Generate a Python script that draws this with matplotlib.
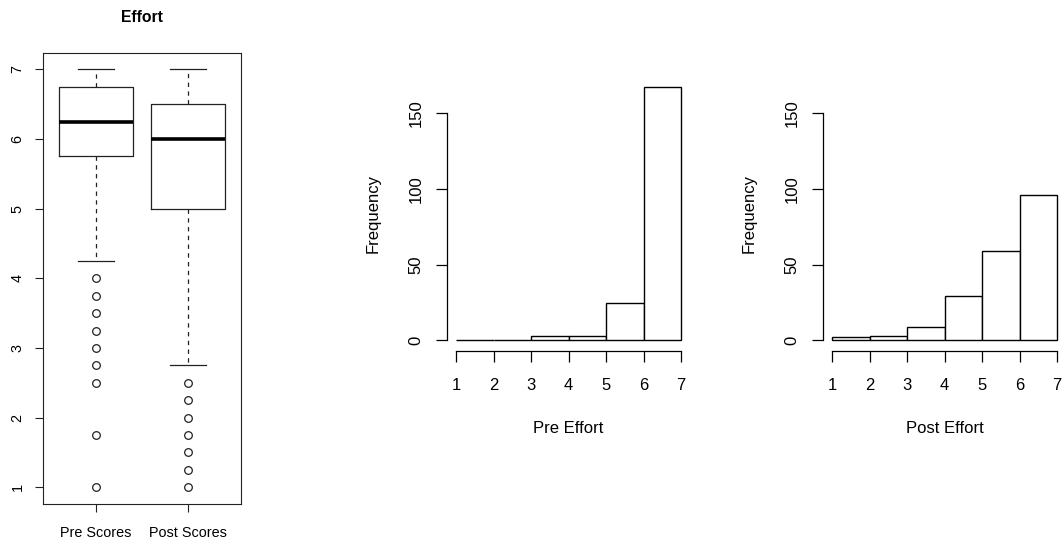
import numpy as np
import matplotlib
matplotlib.use("Agg")
import matplotlib.pyplot as plt

plt.rcParams['font.family'] = ['Liberation Sans', 'DejaVu Sans']

# boxplot summary
box_labels = ['Pre Scores', 'Post Scores']
box_q1 = [5.75, 5.0]
box_med = [6.25, 6.0]
box_q3 = [6.75, 6.5]
box_lo = [4.25, 2.75]
box_hi = [7.0, 7.0]
pre_outliers = [4.0, 3.75, 3.5, 3.25, 3.0, 2.75, 2.5, 1.75, 1.0]
post_outliers = [2.5, 2.25, 2.0, 1.75, 1.5, 1.25, 1.0]

# histogram counts, bins of width 1 from 1 to 7
bin_edges = [1, 2, 3, 4, 5, 6, 7]
pre_counts = [0, 0, 3, 3, 25, 167]
post_counts = [2, 3, 9, 29, 59, 96]

W, H = 1062, 544
fig = plt.figure(figsize=(W / 100, H / 100), dpi=100)


def px_axes(left, right, top, bottom):
    return fig.add_axes([left / W, 1 - bottom / H, (right - left) / W, (bottom - top) / H])


# ---- boxplot ----
ax = px_axes(42.7, 241.3, 52.7, 504)
stats = []
fliers = [pre_outliers, post_outliers]
for i in range(2):
    stats.append(dict(med=box_med[i], q1=box_q1[i], q3=box_q3[i],
                      whislo=box_lo[i], whishi=box_hi[i], fliers=fliers[i]))
lc = '#222222'
ax.bxp(stats, positions=[1, 2], widths=0.8, capwidths=0.4,
       boxprops=dict(color=lc, linewidth=0.9),
       whiskerprops=dict(color=lc, linewidth=0.9, linestyle=(0, (3.5, 3.5))),
       capprops=dict(color=lc, linewidth=0.9),
       medianprops=dict(color='black', linewidth=2.6),
       flierprops=dict(marker='o', markersize=5.5, markerfacecolor='none',
                       markeredgecolor=lc, markeredgewidth=0.9))
ax.set_xlim(0.42, 2.58)
ax.set_ylim(0.76, 7.24)
ax.set_yticks(range(1, 8))
ax.set_yticklabels([str(v) for v in range(1, 8)], rotation=90, va='center', fontsize=10.4)
ax.set_xticks([1, 2])
ax.set_xticklabels(box_labels, fontsize=10.4)
ax.tick_params(axis='both', length=6, width=0.8, color=lc)
ax.tick_params(axis='x', pad=10)
ax.tick_params(axis='y', pad=7)
for s in ax.spines.values():
    s.set_linewidth(0.8)
    s.set_color(lc)
ax.set_title('Effort', fontsize=11.3, fontweight='bold', pad=22)


# ---- histograms ----
def hist_panel(left, right, counts, xlabel):
    a = px_axes(left, right, 76.8, 350.6)
    a.hist(bin_edges[:-1], bins=bin_edges, weights=counts,
           facecolor='white', edgecolor='black', linewidth=1.0)
    a.set_xlim(0.76, 7.24)
    a.set_ylim(-6.68, 173.68)
    for side in ['top', 'right']:
        a.spines[side].set_visible(False)
    a.spines['left'].set_bounds(0, 150)
    a.spines['bottom'].set_bounds(1, 7)
    a.spines['left'].set_linewidth(0.9)
    a.spines['bottom'].set_linewidth(0.9)
    a.set_yticks([0, 50, 100, 150])
    a.set_yticklabels(['0', '50', '100', '150'], rotation=90, va='center', fontsize=12)
    a.set_xticks(range(1, 8))
    a.set_xticklabels([str(v) for v in range(1, 8)], fontsize=12)
    a.tick_params(axis='both', length=8, width=0.9)
    a.tick_params(axis='x', pad=12)
    a.tick_params(axis='y', pad=9)
    a.set_ylabel('Frequency', fontsize=12, labelpad=20)
    a.set_xlabel(xlabel, fontsize=12, labelpad=20)
    return a


hist_panel(447, 690, pre_counts, 'Pre Effort')
hist_panel(823, 1066, post_counts, 'Post Effort')

fig.savefig('out.png', dpi=100)
